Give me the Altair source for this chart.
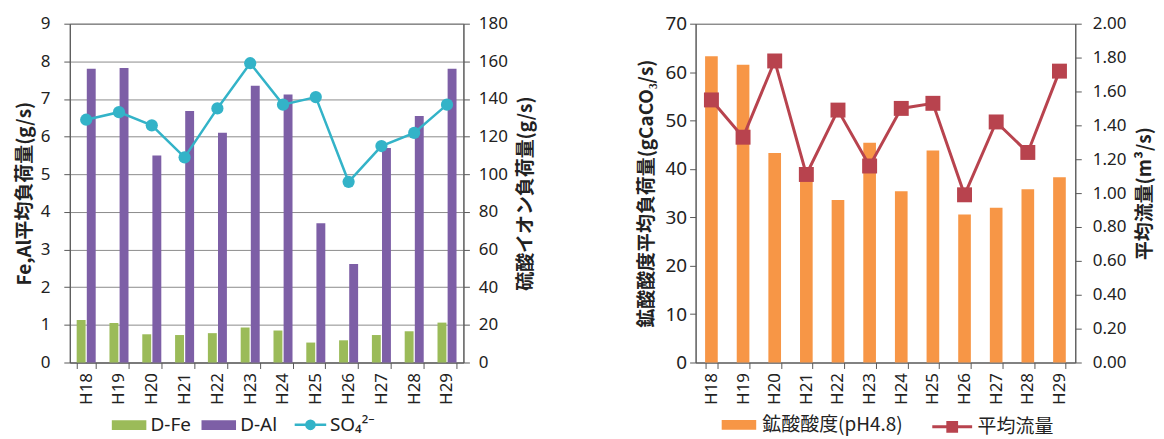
import altair as alt
import pandas as pd

years = ["H18", "H19", "H20", "H21", "H22", "H23", "H24", "H25", "H26", "H27", "H28", "H29"]
d_fe = [1.13, 1.05, 0.75, 0.73, 0.78, 0.93, 0.85, 0.53, 0.59, 0.73, 0.83, 1.06]
d_al = [7.80, 7.82, 5.50, 6.68, 6.10, 7.35, 7.12, 3.70, 2.62, 5.70, 6.55, 7.80]
so4 = [129, 133, 126, 109, 135, 159, 137, 141, 96, 115, 122, 137]
acid = [63.3, 61.5, 43.3, 37.5, 33.6, 45.4, 35.4, 43.8, 30.6, 32.0, 35.8, 38.3]
flow = [1.55, 1.33, 1.78, 1.11, 1.49, 1.16, 1.50, 1.53, 0.99, 1.42, 1.24, 1.72]

bar_names = ["D-Fe", "D-Al"]
so4_name = "SO₄²⁻"
acid_name = "鉱酸酸度(pH4.8)"
flow_name = "平均流量"

GREEN, PURPLE, CYAN = "#9bbb59", "#7d5fa6", "#33b3c8"
ORANGE, RED = "#f79646", "#b8434e"
FONT = "Noto Sans"
JFONT = "Noto Sans CJK JP"
AXC = "#595959"
TFS = 19

bars_df = pd.DataFrame(
    [{"year": y, "series": bar_names[0], "value": v} for y, v in zip(years, d_fe)]
    + [{"year": y, "series": bar_names[1], "value": v} for y, v in zip(years, d_al)]
)
so4_df = pd.DataFrame({"year": years, "so4": so4, "series": so4_name})
acid_df = pd.DataFrame({"year": years, "acid": acid, "series": acid_name})
flow_df = pd.DataFrame({"year": years, "flow": flow, "series": flow_name})

PW, PH, RW = 395, 340, 381
LEGY = PH + 45


def xaxis():
    return alt.Axis(title=None, labelAngle=-90, labelFontSize=17, labelFont=FONT,
                    labelColor="#222", tickBand="extent", tickSize=6, domainColor=AXC,
                    tickColor=AXC, labelPadding=4, labelBaseline="middle", labelAlign="right")


def yaxis(title, values, orient="left", grid=False, fmt=None, lpad=4, tpad=8, lfs=17):
    kw = dict(orient=orient, title=title, values=values, grid=grid, gridColor="#8c8c8c",
              labelFontSize=lfs, labelFont=FONT, labelColor="#222", labelPadding=lpad,
              titleFont=JFONT, titleFontSize=TFS, titleFontWeight="bold", titleColor="#222",
              titlePadding=tpad, domainColor=AXC, tickColor=AXC, tickSize=6, labelOverlap=False)
    if orient == "right":
        kw["titleAngle"] = 270
        kw["titleBaseline"] = "top"
    if fmt:
        kw["format"] = fmt
    return alt.Axis(**kw)


rect_sym = "M-1,-0.28H1V0.28H-1Z"
circ_line_sym = "M-1,0H1M0.26,0A0.26,0.26,0,1,1,-0.26,0A0.26,0.26,0,1,1,0.26,0Z"
sq_line_sym = "M-1,0H1M-0.22,-0.22H0.22V0.22H-0.22Z"

# ---------- left chart ----------
left_bars = alt.Chart(bars_df).mark_bar().encode(
    x=alt.X("year:N", sort=years, axis=xaxis(),
            scale=alt.Scale(paddingInner=0.42, paddingOuter=0.21)),
    xOffset=alt.XOffset("series:N", sort=bar_names, scale=alt.Scale(paddingInner=0.12)),
    y=alt.Y("value:Q", scale=alt.Scale(domain=[0, 9], nice=False),
            axis=yaxis("Fe,Al平均負荷量(g/s)", list(range(10)), grid=True, lpad=14, tpad=6)),
    color=alt.Color("series:N", sort=bar_names,
                    scale=alt.Scale(domain=bar_names, range=[GREEN, PURPLE]),
                    legend=alt.Legend(title=None, orient="none", direction="horizontal",
                                      legendX=42, legendY=LEGY, symbolType=rect_sym,
                                      symbolSize=1200, labelFontSize=19, labelFont=FONT,
                                      labelColor="#222", columnPadding=10, labelOffset=4,
                                      symbolStrokeWidth=0)),
)

so4_line = alt.Chart(so4_df).mark_line(
    strokeWidth=2.5, point=alt.OverlayMarkDef(filled=True, size=150, opacity=1)
).encode(
    x=alt.X("year:N", sort=years),
    y=alt.Y("so4:Q", scale=alt.Scale(domain=[0, 180], nice=False),
            axis=yaxis("硫酸イオン負荷量(g/s)", list(range(0, 181, 20)), orient="right",
                       lpad=9, tpad=9)),
    color=alt.Color("series:N", scale=alt.Scale(domain=[so4_name], range=[CYAN]),
                    legend=alt.Legend(title=None, orient="none", legendX=224, legendY=LEGY,
                                      symbolType=circ_line_sym, symbolSize=1000,
                                      symbolStrokeWidth=2.5, symbolFillColor=CYAN,
                                      labelFontSize=19, labelFont=FONT, labelColor="#222",
                                      labelOffset=2)),
)

left = alt.layer(left_bars, so4_line).resolve_scale(
    y="independent", color="independent").properties(width=PW, height=PH)

# ---------- right chart ----------
acid_bars = alt.Chart(acid_df).mark_bar().encode(
    x=alt.X("year:N", sort=years, axis=xaxis(),
            scale=alt.Scale(paddingInner=0.6, paddingOuter=0.3)),
    y=alt.Y("acid:Q", scale=alt.Scale(domain=[0, 70], nice=False),
            axis=yaxis("鉱酸酸度平均負荷量(gCaCO₃/s)", list(range(0, 71, 10)), lpad=3, tpad=9,
                       lfs=19)),
    color=alt.Color("series:N", scale=alt.Scale(domain=[acid_name], range=[ORANGE]),
                    legend=alt.Legend(title=None, orient="none", legendX=26, legendY=LEGY,
                                      symbolType=rect_sym, symbolSize=1200, labelFontSize=19,
                                      labelFont=JFONT, labelColor="#222", labelOffset=6,
                                      symbolStrokeWidth=0)),
)

flow_line = alt.Chart(flow_df).mark_line(
    strokeWidth=3, point=alt.OverlayMarkDef(shape="square", filled=True, size=225, opacity=1)
).encode(
    x=alt.X("year:N", sort=years),
    y=alt.Y("flow:Q", scale=alt.Scale(domain=[0, 2], nice=False),
            axis=yaxis("平均流量(m³/s)", [i / 5 for i in range(11)], orient="right", fmt=".2f",
                       lpad=11, tpad=10)),
    color=alt.Color("series:N", scale=alt.Scale(domain=[flow_name], range=[RED]),
                    legend=alt.Legend(title=None, orient="none", legendX=236, legendY=LEGY - 2,
                                      symbolType=sq_line_sym, symbolSize=1600,
                                      symbolStrokeWidth=3, symbolFillColor=RED,
                                      labelFontSize=19, labelFont=JFONT, labelColor="#222",
                                      labelOffset=4)),
)

right = alt.layer(acid_bars, flow_line).resolve_scale(
    y="independent", color="independent").properties(width=RW, height=PH)

chart = alt.hconcat(left, right, spacing=100).resolve_scale(
    color="independent", x="independent", y="independent"
).resolve_legend(color="independent").configure_view(
    stroke=AXC, strokeWidth=1
).properties(padding={"left": 6, "right": 0, "top": 5, "bottom": 0})

chart.save("out.html", embed_options={"renderer": "svg", "actions": False})
